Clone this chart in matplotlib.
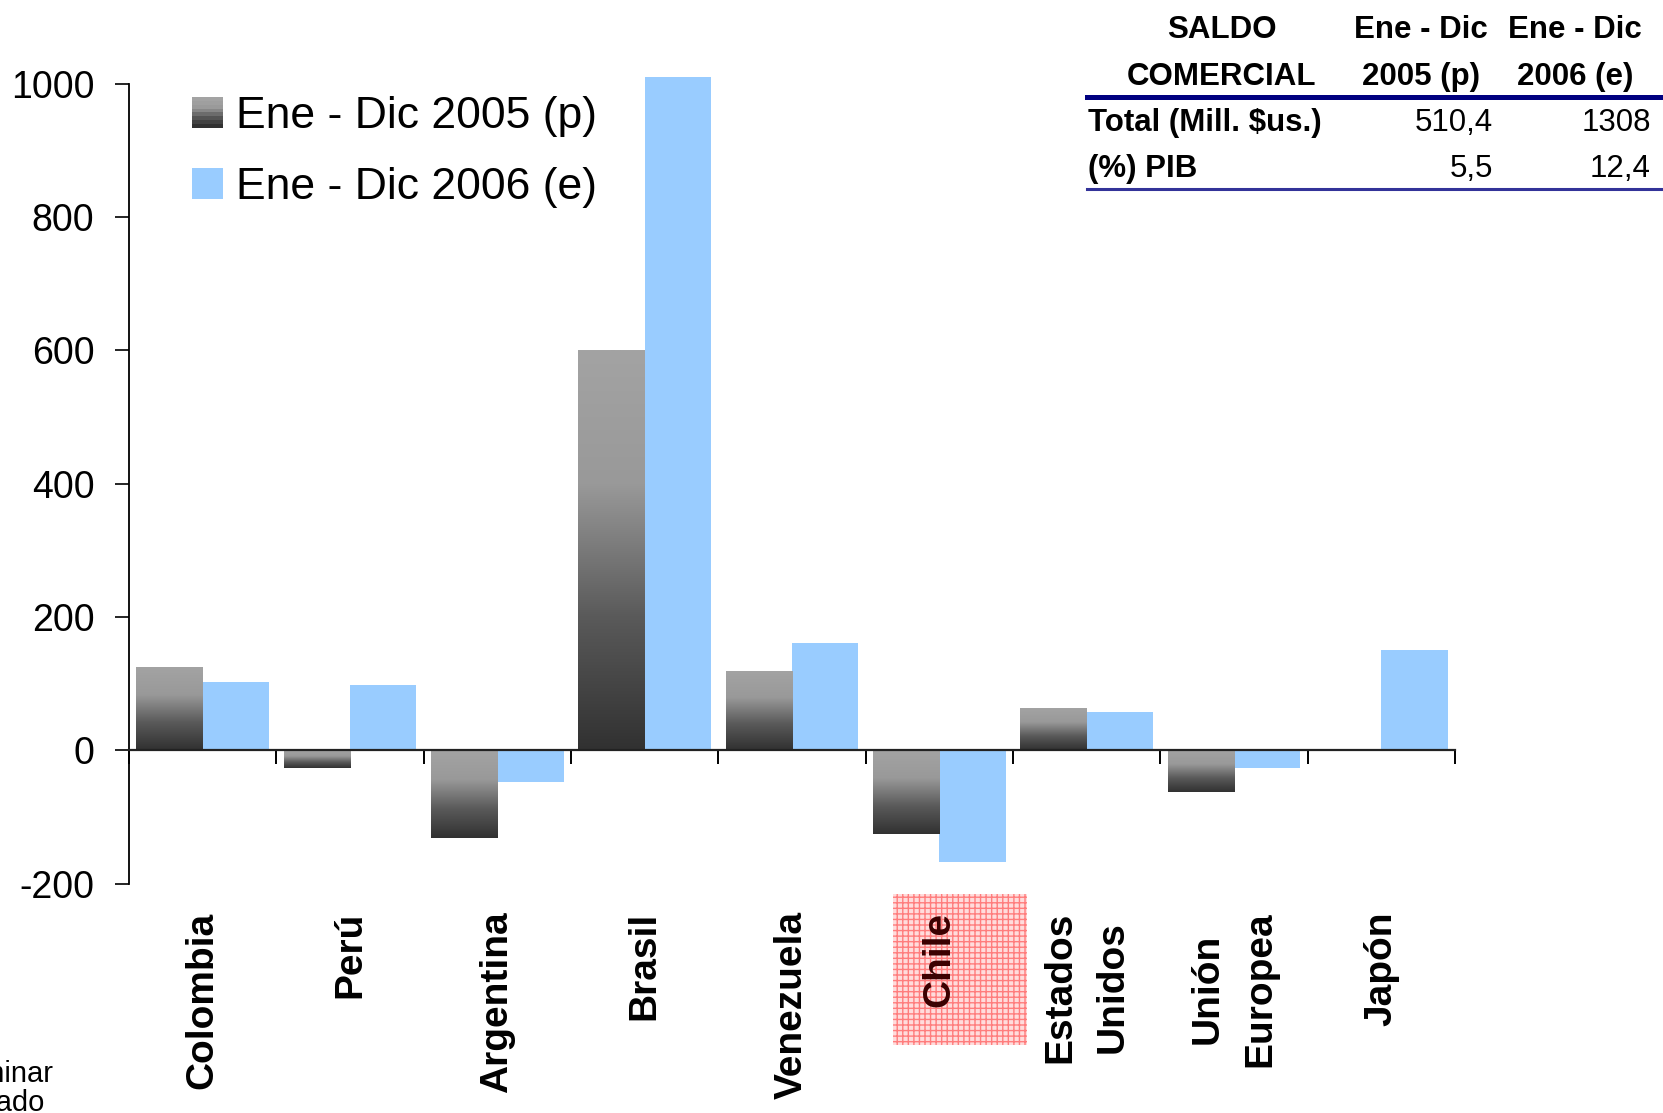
import numpy as np
import matplotlib
matplotlib.use('Agg')
import matplotlib.pyplot as plt
from matplotlib import font_manager
from matplotlib.colors import LinearSegmentedColormap
from matplotlib.legend_handler import HandlerBase
from matplotlib.lines import Line2D
from matplotlib.patches import Rectangle

paises = ['Colombia', 'Perú', 'Argentina', 'Brasil', 'Venezuela', 'Chile',
          'Estados\nUnidos', 'Unión\nEuropea', 'Japón']
saldo_2005 = [124, -27, -132, 600, 118, -126, 63, -63, 0]
saldo_2006 = [102, 98, -48, 1010, 161, -168, 57, -27, 151]
series = ['Ene - Dic 2005 (p)', 'Ene - Dic 2006 (e)']

tabla_encabezado = ['SALDO\nCOMERCIAL', 'Ene - Dic\n2005 (p)', 'Ene - Dic\n2006 (e)']
tabla_filas = ['Total (Mill. $us.)', '(%) PIB']
tabla_2005 = ['510,4', '5,5']
tabla_2006 = ['1308', '12,4']
notas = ['(p) Preliminar', '(e) Estimado']

AZUL = '#99ccff'
gris = LinearSegmentedColormap.from_list('gris', ['#a3a3a3', '#999999', '#5a5a5a', '#313131'])

W, H = 1663, 1113


def fx(px):
    return px / W


def fy(py):
    return 1 - py / H


class HandlerDegradado(HandlerBase):
    def create_artists(self, legend, orig_handle, xdescent, ydescent,
                       width, height, fontsize, trans):
        n = 8
        franjas = []
        for i, c in enumerate(gris(np.linspace(0, 1, n))):
            y = -ydescent + height * (1 - (i + 1) / n)
            franjas.append(Rectangle((-xdescent, y), width, height / n,
                                     facecolor=c, edgecolor='none', transform=trans))
        return franjas


def main():
    plt.rcParams['font.family'] = 'Liberation Sans'
    plt.rcParams['axes.unicode_minus'] = False
    nombres = {f.name for f in font_manager.fontManager.ttflist}
    fuente_tabla = 'Liberation Sans Narrow' if 'Liberation Sans Narrow' in nombres else 'Liberation Sans'
    tam_tabla = 26 if fuente_tabla == 'Liberation Sans Narrow' else 22.5

    fig = plt.figure(figsize=(W / 100, H / 100), dpi=100)
    ax = fig.add_axes([fx(129), fy(883.5), (1455 - 129) / W, (883.5 - 83.8) / H])

    x = np.arange(len(paises))
    ancho = 0.45
    barras05 = ax.bar(x - ancho / 2, saldo_2005, ancho, color='none', edgecolor='none')
    barras06 = ax.bar(x + ancho / 2, saldo_2006, ancho, color=AZUL, edgecolor='none',
                      zorder=2, clip_on=False)

    # degradado gris de las barras 2005 (claro arriba, oscuro abajo)
    degradado = np.linspace(0, 1, 256).reshape(-1, 1)
    for b in barras05:
        alto = b.get_height()
        if alto == 0:
            continue
        x0 = b.get_x()
        y0, y1 = sorted([b.get_y(), b.get_y() + alto])
        ax.imshow(degradado, extent=[x0, x0 + b.get_width(), y0, y1], aspect='auto',
                  cmap=gris, vmin=0, vmax=1, zorder=2, interpolation='bilinear')

    ax.set_xlim(-0.5, len(paises) - 0.5)
    ax.set_ylim(-200, 1000)

    for s in ['top', 'right']:
        ax.spines[s].set_visible(False)
    ax.spines['left'].set_bounds(-200, 1000)
    ax.spines['left'].set_linewidth(1.3)
    ax.spines['bottom'].set_position(('data', 0))
    ax.spines['bottom'].set_linewidth(1.6)
    ax.spines['bottom'].set_color('#222222')
    ax.spines['bottom'].set_zorder(3)

    ax.set_xticks(np.arange(-0.5, len(paises)))
    ax.tick_params(axis='x', direction='out', length=10, width=1.4, labelbottom=False)
    ax.set_yticks(range(-200, 1001, 200))
    ax.tick_params(axis='y', direction='out', length=10, width=1.2, pad=15, labelsize=27)

    # recuadro de Chile
    trans = ax.get_xaxis_transform()
    ichile = paises.index('Chile')
    ax.add_patch(Rectangle((ichile - 0.314, -0.202), 0.909, 0.189, transform=trans,
                           facecolor='#ffdcdc', edgecolor='#ff7d7d', hatch='+++',
                           linewidth=0, clip_on=False, zorder=1))

    for i, p in enumerate(paises):
        ax.text(i, -0.035, p, transform=trans, rotation=90, ha='center', va='top',
                fontsize=28, fontweight='bold', multialignment='center', linespacing=1.6,
                color='#3a0000' if p == 'Chile' else 'black', zorder=3)

    proxy = Rectangle((0, 0), 1, 1)
    ax.legend([proxy, barras06], series, handler_map={proxy: HandlerDegradado()},
              loc='upper left', bbox_to_anchor=(fx(192), fy(96)),
              bbox_transform=fig.transFigure, frameon=False, fontsize=32,
              handlelength=0.7, handleheight=0.7, handletextpad=0.3,
              labelspacing=0.68, borderpad=0, borderaxespad=0)

    # tabla saldo comercial
    col_x = [1222, 1421, 1575]
    for cx, enc in zip(col_x, tabla_encabezado):
        for by, linea in zip([37.5, 85], enc.split('\n')):
            fig.text(fx(cx), fy(by), linea, ha='center', va='baseline', fontsize=tam_tabla,
                     fontweight='bold', family=fuente_tabla)
    for by, fila, v05, v06 in zip([131, 177.5], tabla_filas, tabla_2005, tabla_2006):
        fig.text(fx(1088), fy(by), fila, ha='left', va='baseline', fontsize=tam_tabla,
                 fontweight='bold', family=fuente_tabla)
        fig.text(fx(1493), fy(by), v05, ha='right', va='baseline', fontsize=tam_tabla,
                 family=fuente_tabla)
        fig.text(fx(1651), fy(by), v06, ha='right', va='baseline', fontsize=tam_tabla,
                 family=fuente_tabla)
    fig.add_artist(Line2D([fx(1087), fx(1663)], [fy(96.7)] * 2, transform=fig.transFigure,
                          color='#000080', linewidth=3.6))
    fig.add_artist(Line2D([fx(1087), fx(1663)], [fy(188.5)] * 2, transform=fig.transFigure,
                          color='#333399', linewidth=2.2))

    # notas cortadas al borde izquierdo
    for (ex, by), nota in zip([(53, 1082), (44, 1111)], notas):
        fig.text(fx(ex), fy(by), nota, ha='right', va='baseline', fontsize=21)

    fig.savefig('out.png', dpi=100)


if __name__ == '__main__':
    main()
